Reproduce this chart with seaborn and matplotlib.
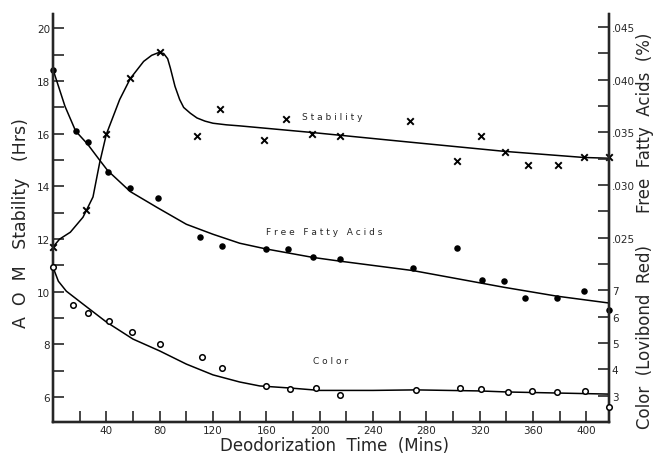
import numpy as np
import pandas as pd
import matplotlib
matplotlib.use("Agg")
import matplotlib.pyplot as plt
from matplotlib.ticker import MultipleLocator, FixedLocator, FuncFormatter
import seaborn as sns

# puntos medidos: estabilidad AOM (Hrs)
t_stab = [0, 25, 40, 58, 80, 108, 125, 158, 175, 194, 215, 268, 303, 321, 339, 356, 379, 398, 417]
stab = [11.7, 13.1, 16.0, 18.1, 19.1, 15.9, 16.95, 15.75, 16.55, 16.0, 15.9, 16.5, 14.95, 15.9, 15.3, 14.8, 14.8, 15.1, 15.1]
# curva dibujada a mano
t_stab_fit = [0, 5, 13, 22.5, 30, 35, 40, 50, 58, 68, 74, 79, 83, 86, 88, 91.5, 95, 98, 103, 108, 114, 120, 130, 140, 194, 268, 339, 398, 417]
stab_fit = [11.7, 12.0, 12.26, 12.83, 13.6, 14.9, 15.98, 17.3, 18.1, 18.75, 18.98, 19.08, 19.05, 18.85, 18.5, 17.8, 17.3, 17.0, 16.78, 16.6, 16.48, 16.4, 16.34, 16.3, 16.05, 15.68, 15.33, 15.1, 15.07]

# acidos grasos libres (%)
t_ffa = [0, 17, 26, 41, 58, 79, 110, 127, 160, 176, 195, 215, 270, 303, 322, 338, 354, 378, 398, 417]
ffa = [0.04093, 0.03513, 0.03405, 0.03123, 0.0297, 0.02875, 0.02505, 0.0242, 0.02393, 0.02393,
       0.02313, 0.02298, 0.02213, 0.0240, 0.02098, 0.02088, 0.01928, 0.01928, 0.01993, 0.01813]
t_ffa_fit = [0, 9, 17, 26, 34.5, 41, 58, 78, 100, 120, 140, 160, 195, 215, 270, 338, 378, 417]
ffa_fit = [0.04098, 0.03748, 0.03513, 0.03388, 0.03245, 0.03138, 0.02938, 0.02788, 0.02628, 0.02533,
           0.02448, 0.02393, 0.02313, 0.02278, 0.02188, 0.0203, 0.01945, 0.0188]

# color (Lovibond rojo)
t_col = [0, 15, 26, 42, 59, 80, 112, 127, 160, 178, 197, 215, 272, 305, 321, 341, 359, 378, 399, 417]
col = [7.88, 6.44, 6.14, 5.82, 5.42, 4.96, 4.47, 4.05, 3.37, 3.25, 3.29, 3.03, 3.22, 3.29, 3.25, 3.15, 3.18, 3.14, 3.18, 2.57]
t_col_fit = [0, 4, 10, 22.5, 40, 60, 80, 100, 120, 140, 155, 178, 200, 240, 272, 320, 341, 417]
col_fit = [7.88, 7.35, 6.97, 6.48, 5.80, 5.15, 4.70, 4.20, 3.79, 3.52, 3.37, 3.29, 3.20, 3.20, 3.22, 3.18, 3.14, 3.06]

x_ticks = list(range(20, 420, 20))
x_labels = [str(v) if v % 40 == 0 else "" for v in x_ticks]

sns.set_style("ticks")
plt.rcParams['font.family'] = ['DejaVu Sans']

fig = plt.figure(figsize=(6.57, 4.6), dpi=100)
ax = fig.add_axes([53/657, 37/460, 556/657, 408/460])
ax_ffa = ax.twinx()
ax_col = ax.twinx()

y_lo, y_hi = 5.05, 20.55
ax.set_xlim(0, 417)
ax.set_ylim(y_lo, y_hi)
# los ejes derechos comparten la misma rejilla vertical
ax_ffa.set_ylim(0.045 + (y_lo - 20.05) * 0.0025, 0.045 + (y_hi - 20.05) * 0.0025)
ax_col.set_ylim(y_lo - 3.05, y_hi - 3.05)

lw = 1.1
sns.lineplot(x=t_stab_fit, y=stab_fit, ax=ax, sort=False, color='black', lw=lw)
sns.scatterplot(x=t_stab, y=stab, ax=ax, marker='x', color='black', s=22, linewidth=1.4, clip_on=False)

sns.lineplot(x=t_ffa_fit, y=ffa_fit, ax=ax_ffa, sort=False, color='black', lw=lw)
sns.scatterplot(x=t_ffa, y=ffa, ax=ax_ffa, marker='o', color='black', s=22, linewidth=0, clip_on=False)

sns.lineplot(x=t_col_fit, y=col_fit, ax=ax_col, sort=False, color='black', lw=lw)
ax_col.scatter(t_col, col, marker='o', facecolors='white', edgecolors='black', s=16, linewidths=1.1,
               clip_on=False, zorder=3)

for a in (ax, ax_ffa, ax_col):
    a.spines['top'].set_visible(False)
    for s in a.spines.values():
        s.set_linewidth(1.6)
    a.tick_params(direction='in', length=8, width=1.2, labelsize=7.5, pad=2)
    a.tick_params(which='minor', direction='in', length=8, width=1.2)

ax.xaxis.set_major_locator(FixedLocator(x_ticks))
ax.set_xticklabels(x_labels)
ax.yaxis.set_minor_locator(MultipleLocator(1))
ax.set_yticks([6, 8, 10, 12, 14, 16, 18, 20])

ax_ffa.yaxis.set_major_locator(FixedLocator([0.025, 0.030, 0.035, 0.040, 0.045]))
ax_ffa.yaxis.set_minor_locator(FixedLocator([0.0225, 0.0275, 0.0325, 0.0375, 0.0425]))
ax_ffa.yaxis.set_major_formatter(FuncFormatter(lambda v, p: f"{v:.3f}"[1:]))
ax_col.set_yticks([3, 4, 5, 6, 7])

ax.set_xlabel("Deodorization  Time  (Mins)", fontsize=12)
ax.xaxis.set_label_coords(0.507, -0.035)
ax.set_ylabel("A  O  M   Stability   (Hrs)", fontsize=12.5)
ax.yaxis.set_label_coords(-0.042, 0.49)
ax_ffa.set_ylabel("Free  Fatty  Acids  (%)", fontsize=12)
ax_ffa.yaxis.set_label_coords(1.048, 0.735)
ax_col.set_ylabel("Color  (Lovibond  Red)", fontsize=12)
ax_col.yaxis.set_label_coords(1.048, 0.21)

ax.text(187, 16.66, "S t a b i l i t y", fontsize=6.5, va='center')
ax.text(160, 12.3, "F r e e   F a t t y   A c i d s", fontsize=6.5, va='center')
ax.text(195, 7.37, "C o l o r", fontsize=6.5, va='center')

fig.savefig("out.png", dpi=100, facecolor='white')
